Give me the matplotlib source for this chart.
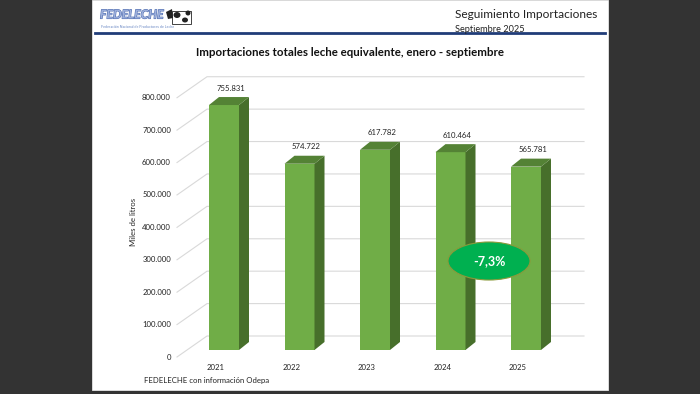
import matplotlib
matplotlib.use('Agg')
import matplotlib.pyplot as plt
from matplotlib.patches import Polygon, Ellipse, Rectangle
from matplotlib.lines import Line2D
import matplotlib.patheffects as pe

# ---------------- data ----------------
years = ['2021', '2022', '2023', '2024', '2025']
values = [755831, 574722, 617782, 610464, 565781]
value_labels = ['755.831', '574.722', '617.782', '610.464', '565.781']
yticks = [0, 100000, 200000, 300000, 400000, 500000, 600000, 700000, 800000]
ytick_labels = ['0', '100.000', '200.000', '300.000', '400.000',
                '500.000', '600.000', '700.000', '800.000']
change_label = '-7,3%'
title = 'Importaciones totales leche equivalente, enero - septiembre'
ylabel = 'Miles de litros'
source = 'FEDELECHE con información Odepa'

plt.rcParams['font.family'] = ['Lato', 'DejaVu Sans']

W, H = 700, 394
fig = plt.figure(figsize=(7, 3.94), dpi=100)
fig.patch.set_facecolor('#333333')

def fx(px):
    return px / W

def fy(py):
    return (H - py) / H

# slide background
fig.add_artist(Rectangle((fx(92), fy(390)), (608 - 92) / W, 390 / H,
                         transform=fig.transFigure, facecolor='white',
                         edgecolor='#e6e6e6', lw=0.6, zorder=0))

# header logo
fig.text(fx(100), fy(15), 'FEDELECHE', color='#9db0dc', fontsize=8.8,
         fontweight='bold', style='italic', va='center', ha='left',
         path_effects=[pe.withStroke(linewidth=0.8, foreground='#4f6db0')])
fig.text(fx(101), fy(27), 'Federación Nacional de Productores de Leche',
         color='#6a88c4', fontsize=2.6, va='center', ha='left')
# simple cow silhouette
fig.add_artist(Rectangle((fx(172), fy(24)), 19 / W, 13 / H, transform=fig.transFigure,
                         facecolor='white', edgecolor='#222222', lw=0.6, zorder=2))
for (cx, cy, w, h) in [(177, 15, 7, 6), (185, 20, 6, 5), (188, 13, 5, 5)]:
    fig.add_artist(Ellipse((fx(cx), fy(cy)), w / W, h / H, transform=fig.transFigure,
                           facecolor='#222222', edgecolor='none', zorder=3))
fig.add_artist(Polygon([(fx(166), fy(12)), (fx(172), fy(9)), (fx(173), fy(18)), (fx(168), fy(19))],
                       closed=True, transform=fig.transFigure, facecolor='#222222',
                       edgecolor='none', zorder=3))

fig.text(fx(455), fy(14), 'Seguimiento Importaciones', fontsize=8.6,
         color='#222222', va='center', ha='left')
fig.text(fx(455), fy(29), 'Septiembre 2025', fontsize=6.6,
         color='#222222', va='center', ha='left')
fig.add_artist(Line2D([fx(95), fx(605)], [fy(33), fy(33)],
                      transform=fig.transFigure, color='#203c78', lw=2))
fig.text(fx(350), fy(52), title, fontsize=8.3, fontweight='bold',
         color='#111111', ha='center', va='center')

# ---------------- chart axes ----------------
PXX = 75.5            # pixels per category unit
PXY = 32.41 / 1e5     # pixels per value unit
X0, Y0 = 224, 350     # pixel position of first bar centre / baseline
L, R, T, B = 140, 600, 62, 388
ax = fig.add_axes([fx(L), fy(B), (R - L) / W, (B - T) / H])
ax.set_xlim((L - X0) / PXX, (R - X0) / PXX)
ax.set_ylim((Y0 - B) / PXY, (Y0 - T) / PXY)
ax.axis('off')
ax.patch.set_alpha(0)

def dxp(px):
    return px / PXX

def dyp(px):
    return px / PXY

# 3D-like gridlines
x_front = dxp(177 - X0)
x_back = dxp(207 - X0)
x_end = dxp(584 - X0)
for v, lab in zip(yticks, ytick_labels):
    ax.plot([x_front, x_back, x_end],
            [v - dyp(7), v + dyp(14), v + dyp(14)],
            color='#d9d9d9', lw=0.8, zorder=1)
    ax.text(dxp(171 - X0), v - dyp(7), lab, ha='right', va='center',
            fontsize=5.6, color='#222222')

# bars
xs = list(range(len(years)))
bw = 30 / PXX
ddx, ddy = dxp(10), dyp(8)
ax.bar(xs, values, width=bw, color='#70ad47', zorder=3)
for x, v, vl, yr in zip(xs, values, value_labels, years):
    xr = x + bw / 2
    xl = x - bw / 2
    ax.add_patch(Polygon([(xr, 0), (xr + ddx, ddy), (xr + ddx, v + ddy), (xr, v)],
                         closed=True, facecolor='#476f2b', edgecolor='none', zorder=3))
    ax.add_patch(Polygon([(xl, v), (xl + ddx, v + ddy), (xr + ddx, v + ddy), (xr, v)],
                         closed=True, facecolor='#548235', edgecolor='none', zorder=3))
    ax.text(x + dxp(7), v + dyp(17), vl, ha='center', va='center',
            fontsize=5.6, color='#222222')
    ax.text(x - dxp(8), -dyp(17), yr, ha='center', va='center',
            fontsize=5.6, color='#222222')

# change bubble
ecx, ecy = dxp(489 - X0), dyp(350 - 261)
ax.add_patch(Ellipse((ecx, ecy), dxp(82), dyp(38), facecolor='#00b050',
                     edgecolor='#8a9a3a', lw=0.8, zorder=5))
ax.text(ecx, ecy, change_label, ha='center', va='center', fontsize=9,
        fontweight='bold', color='white', zorder=6)

# axis title and source
fig.text(fx(134), fy(222), ylabel, rotation=90, fontsize=5.6,
         color='#222222', ha='center', va='center')
fig.text(fx(144), fy(381), source, fontsize=5.6, color='#222222',
         ha='left', va='center')

fig.savefig('out.png', dpi=100, facecolor=fig.get_facecolor())
